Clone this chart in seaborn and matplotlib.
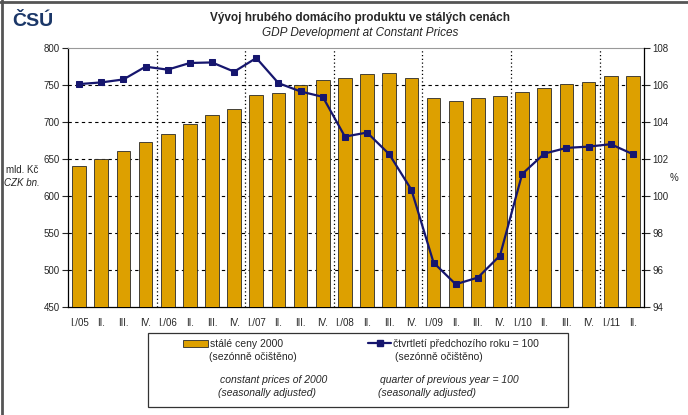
import numpy as np
import pandas as pd
import matplotlib.pyplot as plt
import seaborn as sns
from matplotlib.lines import Line2D
from matplotlib.patches import Patch, Rectangle

# ======= data =======
quarters = ['I./05', 'II.', 'III.', 'IV.',
            'I./06', 'II.', 'III.', 'IV.',
            'I./07', 'II.', 'III.', 'IV.',
            'I./08', 'II.', 'III.', 'IV.',
            'I./09', 'II.', 'III.', 'IV.',
            'I./10', 'II.', 'III.', 'IV.',
            'I./11', 'II.']
# constant prices of 2000, CZK bn
gdp = [641, 650.5, 661, 673,
       684, 697, 709, 718,
       736, 739.5, 749.4, 757,
       759, 765, 766.6, 759.4,
       732, 728.6, 732, 735,
       740.4, 745.8, 751, 754,
       761.6, 761.6]
# same quarter of previous year = 100
yoy = [106.05, 106.14, 106.3, 106.99,
       106.83, 107.19, 107.22, 106.72,
       107.46, 106.1, 105.65, 105.36,
       103.21, 103.43, 102.26, 100.34,
       96.4, 95.23, 95.59, 96.78,
       101.19, 102.29, 102.6, 102.67,
       102.8, 102.26]
left_ticks = [450, 500, 550, 600, 650, 700, 750, 800]
right_ticks = [94, 96, 98, 100, 102, 104, 106, 108]

BAR = '#DDA000'
LINE = '#16166E'

sns.set_style("ticks")
plt.rcParams['font.family'] = ['Liberation Sans', 'DejaVu Sans']

df = pd.DataFrame({'pos': np.arange(len(quarters)), 'gdp': gdp, 'yoy': yoy})

W, H = 688, 415
fig = plt.figure(figsize=(W / 100, H / 100), dpi=100)
ax = fig.add_axes([68 / W, 1 - 307 / H, 576 / W, 259 / H])

# bars
sns.barplot(data=df, x='pos', y='gdp', color=BAR, saturation=1, width=0.62,
            edgecolor='#2a2a2a', linewidth=0.6, ax=ax, zorder=3)
ax.set_ylim(450, 800)
ax.set_yticks(left_ticks)
ax.set_yticklabels([str(t) for t in left_ticks], fontsize=7)
ax.set_xticks(df['pos'])
ax.set_xticklabels(quarters, fontsize=7)
ax.set_xlabel('')
ax.set_ylabel('')
ax.tick_params(axis='x', length=0, pad=8)
ax.tick_params(axis='y', length=4, width=0.8, direction='out', pad=2)

# grid
for t in left_ticks[1:-1]:
    ax.axhline(t, color='black', ls=(0, (3, 3)), lw=0.8, zorder=1)
for k in range(4, len(quarters), 4):
    ax.axvline(k - 0.5, color='black', ls=(0, (1, 2)), lw=0.9, zorder=1)

for s in ['left', 'bottom']:
    ax.spines[s].set_color('black')
    ax.spines[s].set_linewidth(0.9)
ax.spines['top'].set_visible(True)
ax.spines['top'].set_color('#999999')
ax.spines['right'].set_visible(False)

# line on right axis
ax2 = ax.twinx()
sns.lineplot(data=df, x='pos', y='yoy', color=LINE, lw=1.6, marker='s',
             markersize=4, markeredgecolor=LINE, ax=ax2, zorder=4)
ax2.set_ylim(94, 108)
ax2.set_yticks(right_ticks)
ax2.set_yticklabels([str(t) for t in right_ticks], fontsize=7)
ax2.set_ylabel('')
ax2.tick_params(axis='y', length=4, width=0.8, direction='out', pad=2)
for s in ['top', 'left', 'bottom']:
    ax2.spines[s].set_visible(False)
ax2.spines['right'].set_visible(True)
ax2.spines['right'].set_color('black')
ax2.spines['right'].set_linewidth(0.9)
ax.set_xlim(-0.5, len(quarters) - 0.5)

# titles and axis captions
fig.text(360 / W, 1 - 18 / H, 'Vývoj hrubého domácího produktu ve stálých cenách',
         ha='center', va='center', fontsize=8.5, fontweight='bold')
fig.text(360 / W, 1 - 33 / H, 'GDP Development at Constant Prices',
         ha='center', va='center', fontsize=8.5, style='italic')
fig.text(22 / W, 1 - 170 / H, 'mld. Kč', ha='center', va='center', fontsize=7)
fig.text(22 / W, 1 - 183 / H, 'CZK bn.', ha='center', va='center', fontsize=7, style='italic')
fig.text(674 / W, 1 - 178 / H, '%', ha='center', va='center', fontsize=7)

# logo
fig.text(12 / W, 1 - 22 / H, 'ČSÚ', ha='left', va='center', fontsize=14,
         fontweight='heavy', color='#1B3768')

# legend box
fig.add_artist(Rectangle((148 / W, 1 - 407 / H), 420 / W, 74 / H, transform=fig.transFigure,
                         fill=False, edgecolor='#333333', lw=0.9))
leg1 = fig.legend([Patch(facecolor=BAR, edgecolor='#2a2a2a', lw=0.6)], ['stálé ceny 2000'],
                  loc='center left', bbox_to_anchor=(176 / W, 1 - 344 / H), frameon=False,
                  fontsize=7.5, handlelength=2.4, handleheight=0.6, handletextpad=0.2,
                  borderpad=0.2)
fig.legend([Line2D([], [], color=LINE, lw=1.6, marker='s', markersize=4)],
           ['čtvrtletí předchozího roku = 100'],
           loc='center left', bbox_to_anchor=(361 / W, 1 - 344 / H), frameon=False,
           fontsize=7.5, handlelength=2.2, handletextpad=0.2, borderpad=0.2)
fig.text(209 / W, 1 - 357 / H, '(sezónně očištěno)', fontsize=7.5, va='center')
fig.text(395 / W, 1 - 357 / H, '(sezónně očištěno)', fontsize=7.5, va='center')
fig.text(220 / W, 1 - 380 / H, 'constant prices of 2000', fontsize=7.5, va='center', style='italic')
fig.text(218 / W, 1 - 393 / H, '(seasonally adjusted)', fontsize=7.5, va='center', style='italic')
fig.text(380 / W, 1 - 380 / H, 'quarter of previous year = 100', fontsize=7.5, va='center', style='italic')
fig.text(378 / W, 1 - 393 / H, '(seasonally adjusted)', fontsize=7.5, va='center', style='italic')

# outer frame (top and left edges like the screenshot)
fig.add_artist(Line2D([0, 1], [1 - 2 / H, 1 - 2 / H], transform=fig.transFigure, color='#555555', lw=2))
fig.add_artist(Line2D([2 / W, 2 / W], [0, 1], transform=fig.transFigure, color='#555555', lw=2))

fig.savefig('out.png', dpi=100)
